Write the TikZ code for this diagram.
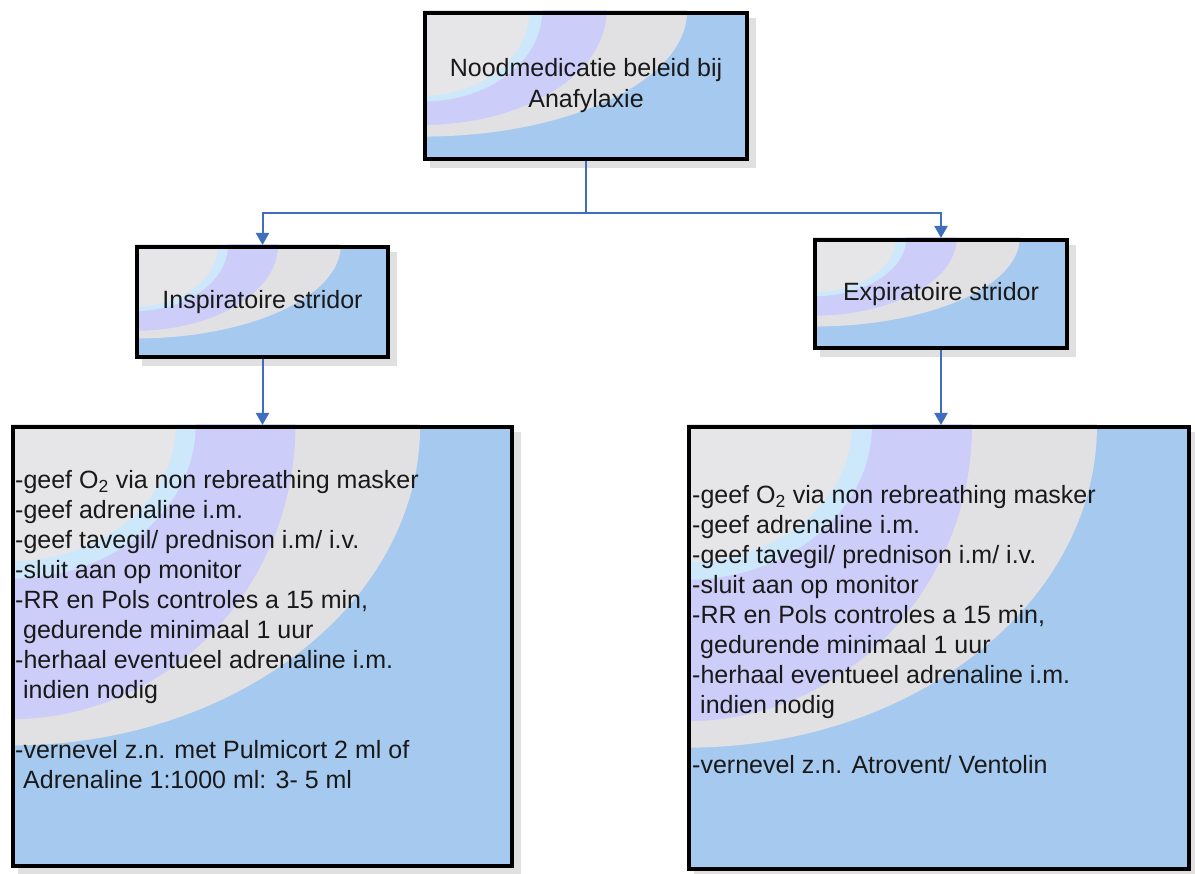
\documentclass[tikz,border=0pt]{standalone}
\usepackage{fontspec}
\setmainfont{Liberation Sans}
\usetikzlibrary{calc}
\usetikzlibrary{arrows.meta}
\usetikzlibrary{backgrounds}
\definecolor{boxblue}{RGB}{166,201,239}
\definecolor{boxlav}{RGB}{205,205,249}
\definecolor{boxgrey}{RGB}{230,230,233}
\definecolor{boxcyan}{RGB}{205,232,250}
\definecolor{boxpale}{RGB}{225,225,228}
\definecolor{linkblue}{RGB}{64,110,190}

\newcommand\boxbands[6]{% shadow and coloured bands behind box #1 (width #2, height #3), y radii #4 #5 #6
  \begin{scope}[on background layer]
    \fill[black!12] ([shift={(7,7)}]#1.north west) rectangle ([shift={(7,7)}]#1.south east);
    \begin{scope}
      \clip (#1.north west) rectangle (#1.south east);
      \fill[boxblue] (#1.north west) rectangle (#1.south east);
      \begin{scope}[shift={(#1.north west)}]
        \fill[boxpale] (0,0) ellipse [x radius={0.82*#2}, y radius={#6*#3}];
        \fill[boxlav] (0,0) ellipse [x radius={0.57*#2}, y radius={#5*#3}];
        \fill[boxcyan] (0,0) ellipse [x radius={0.37*#2}, y radius={(#4+0.04)*#3}];
        \fill[boxgrey] (0,0) ellipse [x radius={0.33*#2}, y radius={#4*#3}];
      \end{scope}
    \end{scope}
  \end{scope}}

\begin{document}
\begin{tikzpicture}[x=1pt,y=-1pt,
                    my box/.style={draw=black, line width=4pt, inner sep=0pt, align=center, text=black!90, font=\fontsize{25}{31}\selectfont},
                    my list/.style={anchor=north west, inner sep=0pt, align=left, text=black!90, font=\fontsize{25}{30}\selectfont},
                    my link/.style={draw=linkblue, line width=2pt},
                    my arrow/.style={my link, -{Triangle[width=13pt,length=12pt]}}]
\useasboundingbox (0,0) rectangle (1195,874); % page size of the reference
\node[my box, minimum width=322pt, minimum height=146pt] (nood) at (586,86) {Noodmedicatie beleid bij\\Anafylaxie};
\node[my box, minimum width=251pt, minimum height=110pt] (insp) at (262.5,302) {Inspiratoire stridor};
\node[my box, minimum width=252pt, minimum height=108pt] (exp) at (941,294) {Expiratoire stridor};
\node[my box, minimum width=499pt, minimum height=439pt] (bl) at (262.5,646.5) {};
\node[my box, minimum width=500pt, minimum height=442pt] (br) at (939,648) {};
% the coloured bands behind every box
\boxbands{nood}{322}{146}{0.58}{0.78}{0.86}
\boxbands{insp}{251}{110}{0.56}{0.78}{0.85}
\boxbands{exp}{252}{108}{0.5}{0.72}{0.82}
\boxbands{bl}{499}{439}{0.31}{0.67}{0.73}
\boxbands{br}{500}{442}{0.31}{0.67}{0.73}
% texts of the two lower boxes
\node[my list] (bltext) at (15,470) {-geef O\textsubscript{2} via non rebreathing masker\\-geef adrenaline i.m.\\-geef tavegil/ prednison i.m/ i.v.\\-sluit aan op monitor\\-RR en Pols controles a 15 min,\\\hspace*{8pt}gedurende minimaal 1 uur\\-herhaal eventueel adrenaline i.m.\\\hspace*{8pt}indien nodig\\[30pt]-vernevel z.n. met Pulmicort 2 ml of\\\hspace*{8pt}Adrenaline 1:1000 ml: 3- 5 ml};
\node[my list] (brtext) at (692,485) {-geef O\textsubscript{2} via non rebreathing masker\\-geef adrenaline i.m.\\-geef tavegil/ prednison i.m/ i.v.\\-sluit aan op monitor\\-RR en Pols controles a 15 min,\\\hspace*{8pt}gedurende minimaal 1 uur\\-herhaal eventueel adrenaline i.m.\\\hspace*{8pt}indien nodig\\[30pt]-vernevel z.n. Atrovent/ Ventolin};
% connectors
\draw[my link] (nood.south) -- ++(0,52) coordinate (fork);
\draw[my arrow] (fork) -| (insp.north);
\draw[my arrow] (fork) -| (exp.north);
\draw[my arrow] (insp.south) -- (bl.north);
\draw[my arrow] (exp.south) -- (exp.south |- br.north);
\end{tikzpicture}
\end{document}
